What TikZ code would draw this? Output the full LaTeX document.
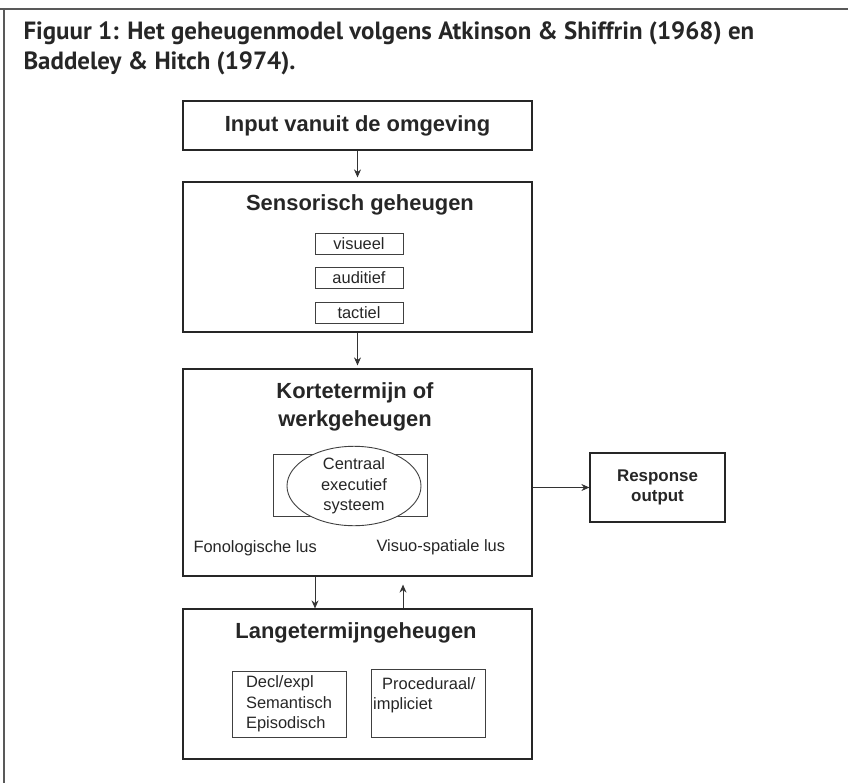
\documentclass[tikz,border=0pt]{standalone}
\usepackage{fontspec}
\setmainfont{Liberation Sans}
\newfontfamily\titlefont{PT Sans}
\usetikzlibrary{arrows.meta,shapes.geometric}

\begin{document}
\begin{tikzpicture}[x=1bp,y=-1bp,
  box/.style={draw=black!85,line width=1.2bp,inner sep=0pt},
  subbox/.style={draw=black!75,line width=0.9bp,inner sep=0pt},
  head/.style={font=\fontsize{22}{28}\selectfont\bfseries,text=black!85,align=center},
  small/.style={font=\fontsize{16.5}{20.5}\selectfont,text=black!85},
  conn/.style={-{Stealth[length=8bp,width=7bp]},line width=0.9bp,draw=black!80}]

\useasboundingbox (0,0) rectangle (848,783);

% frame
\draw[line width=2.5bp,black!65] (0,9) -- (848,9);
\draw[line width=2.5bp,black!65] (4,9) -- (4,783);

\node[anchor=west,align=left,text=black!85,
  font=\titlefont\bfseries\fontsize{25}{30}\selectfont] (title) at (20,48)
  {Figuur 1: Het geheugenmodel volgens Atkinson \& Shiffrin (1968) en\\
   Baddeley \& Hitch (1974).};

% input
\node[box,head,minimum width=349bp,minimum height=49bp] (input) at (357.5,125.5)
  {Input vanuit de omgeving};

% sensorisch geheugen
\node[box,minimum width=349bp,minimum height=150bp] (sens) at (357.5,257) {};
\node[head] (senstitle) at (360,205) {Sensorisch geheugen};
\foreach \n/\t/\y in {vis/visueel/243.5,aud/auditief/278,tac/tactiel/313}
    \node[subbox,small,minimum width=88bp,minimum height=21bp] (\n) at (359,\y) {\t};

% kortetermijn
\node[box,minimum width=349bp,minimum height=207bp] (kort) at (357.5,472.5) {};
\node[head] (korttitle) at (355,407) {Kortetermijn of\\werkgeheugen};
\node[subbox,minimum width=154bp,minimum height=62bp] (cerect) at (350,485) {};
\node[subbox,ellipse,fill=white,small,align=center,
  minimum width=134bp,minimum height=70bp] (ce) at (354,486)
  {Centraal\\executief\\systeem};
\node[small,anchor=west] (fono) at (190,548) {Fonologische lus};
\node[small,anchor=west] (visuo) at (373,547) {Visuo-spatiale lus};

% response
\node[box,align=center,minimum width=135bp,minimum height=69bp,
  font=\fontsize{17}{20}\selectfont\bfseries,text=black!85] (resp) at (657.5,487.5)
  {Response\\output};

% langetermijn
\node[box,minimum width=349bp,minimum height=150bp] (lang) at (357.5,684) {};
\node[head] (langtitle) at (356,633) {Langetermijngeheugen};
\node[subbox,small,align=left,minimum width=114bp,minimum height=66bp] (decl) at (289,704)
  {Decl/expl\\Semantisch\\Episodisch};
\node[subbox,minimum width=114bp,minimum height=68bp] (proc) at (428,703) {};
\node[small,align=left,anchor=north west,inner sep=0pt] (proctxt) at (373,677)
  {\hspace*{9bp}Proceduraal/\\impliciet};

% pijlen
\coordinate (dn) at (315,0);
\coordinate (up) at (403,0);
\draw[conn,shorten >=4bp] (input) -- (sens);
\draw[conn,shorten >=3bp] (sens) -- (kort);
\draw[conn] (kort.south -| dn) -- (lang.north -| dn);
\draw[conn,shorten >=8bp] (lang.north -| up) -- (kort.south -| up);
\draw[conn] (kort.east |- resp.west) -- (resp.west);

\end{tikzpicture}
\end{document}
